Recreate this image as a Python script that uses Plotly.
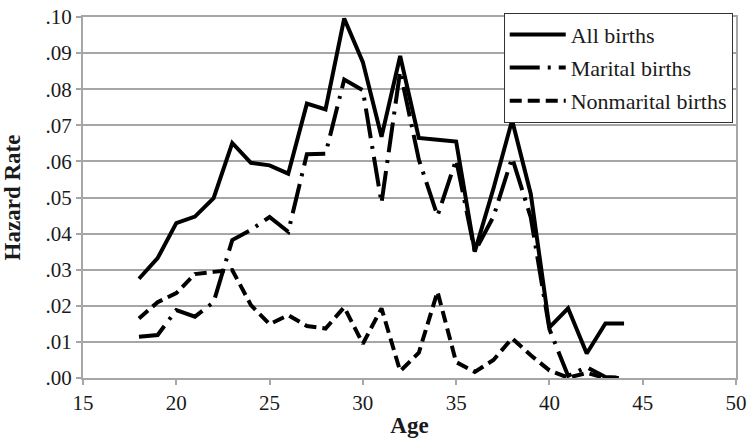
import plotly.graph_objects as go

ages = list(range(18, 45))
all_births = [0.0275, 0.0332, 0.0429, 0.0447, 0.0498, 0.0651, 0.0596, 0.0589, 0.0566,
              0.0760, 0.0744, 0.0996, 0.0875, 0.0668, 0.0892, 0.0665, 0.0660, 0.0655,
              0.0350, 0.0525, 0.0714, 0.0510, 0.0140, 0.0193, 0.0068, 0.0151, 0.0151]
marital_births = [0.0114, 0.0119, 0.0188, 0.0170, 0.0210, 0.0382, 0.0410, 0.0446, 0.0405,
                  0.0620, 0.0621, 0.0827, 0.0797, 0.0485, 0.0850, 0.0605, 0.0449, 0.0605,
                  0.0350, 0.0447, 0.0610, 0.0445, 0.0135, 0.0006, 0.0030, 0.0003, 0.0000]
nonmarital_births = [0.0165, 0.0210, 0.0235, 0.0288, 0.0294, 0.0299, 0.0202, 0.0149, 0.0174,
                     0.0144, 0.0137, 0.0196, 0.0095, 0.0193, 0.0019, 0.0070, 0.0239, 0.0044,
                     0.0017, 0.0050, 0.0110, 0.0063, 0.0021, 0.0001, 0.0014, 0.0000, 0.0000]

y_ticks = [0.00, 0.01, 0.02, 0.03, 0.04, 0.05, 0.06, 0.07, 0.08, 0.09, 0.10]
y_tick_labels = [".00", ".01", ".02", ".03", ".04", ".05", ".06", ".07", ".08", ".09", ".10"]
x_ticks = [15, 20, 25, 30, 35, 40, 45, 50]

FONT = "Liberation Serif"
GRID = "#a6a6a6"
TXT = "#1a1a1a"

fig = go.Figure()
fig.add_trace(go.Scatter(x=ages, y=all_births, mode="lines", name="All births",
                         legendgroup="a",
                         line=dict(color="black", width=4)))
fig.add_trace(go.Scatter(x=ages, y=marital_births, mode="lines", name="Marital births",
                         legendgroup="b",
                         line=dict(color="black", width=4, dash="30px,8px,3px,8px")))
fig.add_trace(go.Scatter(x=ages, y=nonmarital_births, mode="lines", name="Nonmarital births",
                         legendgroup="c",
                         line=dict(color="black", width=4, dash="12px,6px")))

fig.update_layout(
    template="none",
    width=750, height=444,
    margin=dict(l=83, r=14, t=17, b=66, autoexpand=False),
    paper_bgcolor="white", plot_bgcolor="white",
    font=dict(family=FONT, size=21, color=TXT),
    showlegend=True,
    legend=dict(
        x=0.995, xanchor="right", y=1.012, yanchor="top",
        bgcolor="white", bordercolor="#333333", borderwidth=1,
        font=dict(family=FONT, size=22, color=TXT),
        tracegroupgap=1.5, traceorder="grouped", itemwidth=56,
    ),
    xaxis=dict(
        range=[15, 50], tickvals=x_ticks, showgrid=False, zeroline=False,
        showline=True, linecolor=GRID, linewidth=2, mirror=True,
        ticks="outside", ticklen=5, tickwidth=2, tickcolor=GRID,
        ticklabeloverflow="allow", automargin=False,
        tickfont=dict(family=FONT, size=21, color=TXT),
        title=dict(text="<b>Age</b>", font=dict(family=FONT, size=23, color=TXT), standoff=3),
    ),
    yaxis=dict(
        range=[0, 0.10], tickvals=y_ticks, ticktext=y_tick_labels,
        showgrid=True, gridcolor=GRID, gridwidth=2, zeroline=False,
        showline=True, linecolor=GRID, linewidth=2, mirror=True,
        ticks="outside", ticklen=5, tickwidth=2, tickcolor=GRID,
        ticklabeloverflow="allow", automargin=False,
        tickfont=dict(family=FONT, size=21, color=TXT),
        title=dict(text="<b>Hazard Rate</b>", font=dict(family=FONT, size=23, color=TXT), standoff=28),
    ),
)

# Remove the default page margin so the 750x444 figure fills the window exactly.
fig.write_html("out.html", config={"displayModeBar": False},
               post_script="document.body.style.margin='0';")
